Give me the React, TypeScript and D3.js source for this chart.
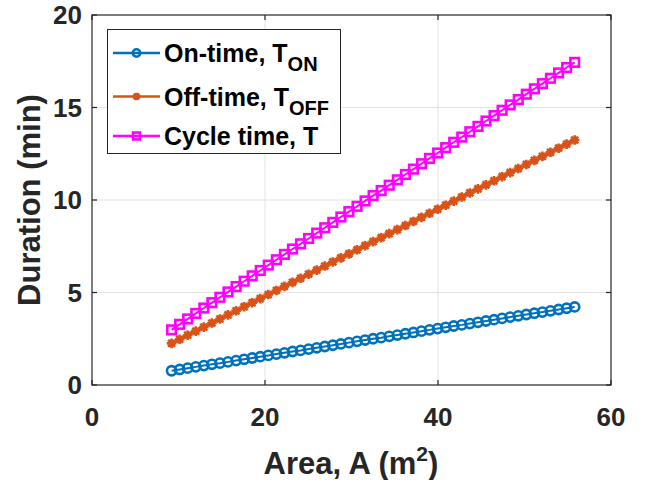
import React from "react";
import * as d3 from "d3";

const areaA = [9.2, 10.13, 11.06, 12.0, 12.93, 13.86, 14.79, 15.72, 16.66, 17.59, 18.52, 19.45, 20.38, 21.32, 22.25, 23.18, 24.11, 25.04, 25.98, 26.91, 27.84, 28.77, 29.7, 30.64, 31.57, 32.5, 33.43, 34.36, 35.3, 36.23, 37.16, 38.09, 39.02, 39.96, 40.89, 41.82, 42.75, 43.68, 44.62, 45.55, 46.48, 47.41, 48.34, 49.28, 50.21, 51.14, 52.07, 53.0, 53.94, 54.87, 55.8];
const onTime = [0.77, 0.84, 0.91, 0.98, 1.05, 1.12, 1.18, 1.25, 1.32, 1.39, 1.46, 1.53, 1.6, 1.67, 1.74, 1.81, 1.87, 1.94, 2.01, 2.08, 2.15, 2.22, 2.29, 2.36, 2.43, 2.5, 2.56, 2.63, 2.7, 2.77, 2.84, 2.91, 2.98, 3.05, 3.12, 3.19, 3.25, 3.32, 3.39, 3.46, 3.53, 3.6, 3.67, 3.74, 3.81, 3.88, 3.94, 4.01, 4.08, 4.15, 4.22];
const offTime = [2.25, 2.47, 2.69, 2.91, 3.13, 3.35, 3.57, 3.79, 4.01, 4.23, 4.45, 4.67, 4.89, 5.11, 5.33, 5.55, 5.77, 5.99, 6.21, 6.43, 6.65, 6.87, 7.09, 7.31, 7.53, 7.75, 7.96, 8.18, 8.4, 8.62, 8.84, 9.06, 9.28, 9.5, 9.72, 9.94, 10.16, 10.38, 10.6, 10.82, 11.04, 11.26, 11.48, 11.7, 11.92, 12.14, 12.36, 12.58, 12.8, 13.02, 13.24];
const cycleTime = [2.98, 3.28, 3.57, 3.87, 4.16, 4.45, 4.74, 5.03, 5.32, 5.61, 5.9, 6.19, 6.48, 6.77, 7.06, 7.35, 7.63, 7.92, 8.21, 8.5, 8.79, 9.08, 9.37, 9.66, 9.95, 10.24, 10.51, 10.8, 11.09, 11.38, 11.67, 11.96, 12.25, 12.54, 12.83, 13.12, 13.4, 13.69, 13.98, 14.27, 14.56, 14.85, 15.14, 15.43, 15.72, 16.01, 16.29, 16.58, 16.87, 17.16, 17.44];
const xTicks = [0, 20, 40, 60];
const yTicks = [0, 5, 10, 15, 20];

const FONT = "'Liberation Sans', Arial, Helvetica, sans-serif";
const AX = "#262626";

const left = 92, right = 611, top = 15, bottom = 385;
const x = d3.scaleLinear().domain([0, 60]).range([left, right]);
const y = d3.scaleLinear().domain([0, 20]).range([bottom, top]);

type MarkerKind = "circle" | "star" | "square";

function Marker({ kind, cx, cy, color, sc = 1 }: { kind: MarkerKind; cx: number; cy: number; color: string; sc?: number }) {
  if (kind === "circle") return <circle cx={cx} cy={cy} r={4.6 * sc} fill="none" stroke={color} strokeWidth={2.6} />;
  if (kind === "square") {
    const h = 4.3 * sc;
    return <rect x={cx - h} y={cy - h} width={2 * h} height={2 * h} fill="none" stroke={color} strokeWidth={2.6} />;
  }
  const s = 4.8 * sc;
  const d = s * 0.72;
  return (
    <path
      d={`M${cx - s},${cy}L${cx + s},${cy}M${cx},${cy - s}L${cx},${cy + s}M${cx - d},${cy - d}L${cx + d},${cy + d}M${cx - d},${cy + d}L${cx + d},${cy - d}`}
      stroke={color}
      strokeWidth={2.6}
      fill="none"
    />
  );
}

const series: { name: string; vals: number[]; color: string; kind: MarkerKind }[] = [
  { name: "on", vals: onTime, color: "#0072BD", kind: "circle" },
  { name: "off", vals: offTime, color: "#D95319", kind: "star" },
  { name: "cycle", vals: cycleTime, color: "#FF00FF", kind: "square" },
];

export default function App() {
  const line = d3.line<[number, number]>().x((d) => x(d[0])).y((d) => y(d[1]));
  const legendRows = [
    { kind: "circle" as MarkerKind, color: "#0072BD", main: "On-time, T", sub: "ON", cy: 53 },
    { kind: "star" as MarkerKind, color: "#D95319", main: "Off-time, T", sub: "OFF", cy: 96.5 },
    { kind: "square" as MarkerKind, color: "#FF00FF", main: "Cycle time, T", sub: "", cy: 136 },
  ];
  return (
    <svg width={645} height={480} style={{ position: "absolute", left: 0, top: 0, background: "#fff" }} fontFamily={FONT}>
      <rect x={0} y={0} width={645} height={480} fill="#fff" />
      {xTicks.slice(1, -1).map((t) => (
        <line key={"gx" + t} x1={x(t)} x2={x(t)} y1={top} y2={bottom} stroke="#e3e3e3" strokeWidth={1} />
      ))}
      {yTicks.slice(1, -1).map((t) => (
        <line key={"gy" + t} x1={left} x2={right} y1={y(t)} y2={y(t)} stroke="#e3e3e3" strokeWidth={1} />
      ))}
      {series.map((s) => {
        const pts = areaA.map((a, i) => [a, s.vals[i]] as [number, number]);
        return (
          <g key={s.name}>
            <path d={line(pts) || ""} fill="none" stroke={s.color} strokeWidth={2} />
            {pts.map((p, i) => (
              <Marker key={i} kind={s.kind} cx={x(p[0])} cy={y(p[1])} color={s.color} />
            ))}
          </g>
        );
      })}
      <rect x={left} y={top} width={right - left} height={bottom - top} fill="none" stroke={AX} strokeWidth={1.2} />
      {xTicks.map((t) => (
        <g key={"xt" + t}>
          <line x1={x(t)} x2={x(t)} y1={bottom} y2={bottom - 5} stroke={AX} strokeWidth={1.2} />
          <line x1={x(t)} x2={x(t)} y1={top} y2={top + 5} stroke={AX} strokeWidth={1.2} />
          <text x={x(t)} y={426} textAnchor="middle" fontSize={26} fontWeight="bold" fill={AX}>
            {t}
          </text>
        </g>
      ))}
      {yTicks.map((t) => (
        <g key={"yt" + t}>
          <line x1={left} x2={left + 5} y1={y(t)} y2={y(t)} stroke={AX} strokeWidth={1.2} />
          <line x1={right} x2={right - 5} y1={y(t)} y2={y(t)} stroke={AX} strokeWidth={1.2} />
          <text x={82} y={y(t) + 9} textAnchor="end" fontSize={26} fontWeight="bold" fill={AX}>
            {t}
          </text>
        </g>
      ))}
      <text x={351} y={474} textAnchor="middle" fontSize={31} fontWeight="bold" fill={AX}>
        <tspan>Area, A (m</tspan>
        <tspan fontSize={21} dy={-13}>2</tspan>
        <tspan dy={13}>)</tspan>
      </text>
      <text transform={`translate(40,200) rotate(-90)`} textAnchor="middle" fontSize={31} fontWeight="bold" fill={AX}>
        Duration (min)
      </text>
      <rect x={107.5} y={29.5} width={233} height={124} fill="#fff" stroke={AX} strokeWidth={1} />
      {legendRows.map((r) => (
        <g key={r.main}>
          <line x1={113} x2={160} y1={r.cy} y2={r.cy} stroke={r.color} strokeWidth={2.4} />
          <Marker kind={r.kind} cx={136.5} cy={r.cy} color={r.color} sc={0.8} />
          <text x={164} y={r.cy + 9} fontSize={25} fontWeight="bold" fill="#000">
            <tspan>{r.main}</tspan>
            {r.sub ? (
              <tspan fontSize={20} dy={9}>
                {r.sub}
              </tspan>
            ) : null}
          </text>
        </g>
      ))}
    </svg>
  );
}
